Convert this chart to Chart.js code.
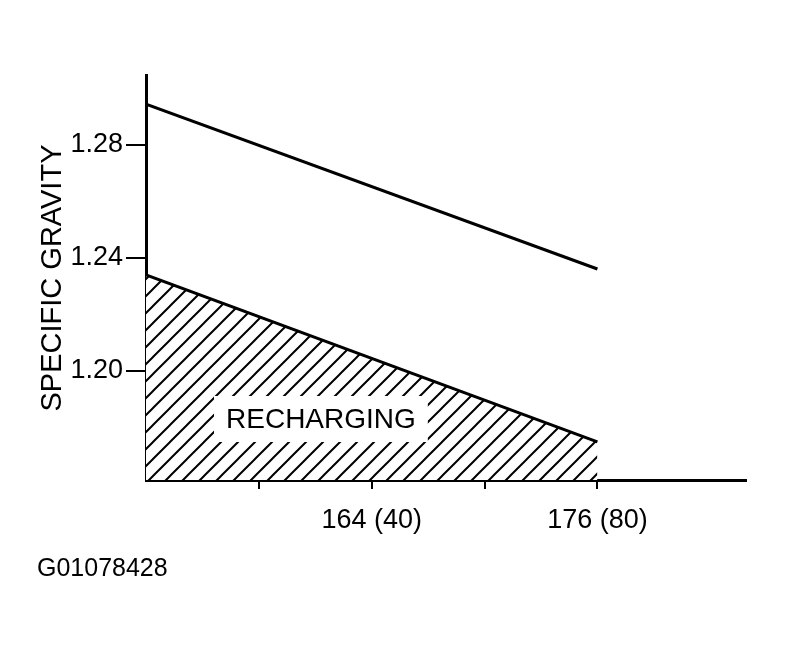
<!DOCTYPE html>
<html>
<head>
<meta charset="utf-8">
<script src="https://cdn.jsdelivr.net/npm/chart.js@4"></script>
<style>
  html, body { margin: 0; padding: 0; background: #fff; }
  #wrap { width: 786px; height: 650px; }
</style>
</head>
<body>
<div id="wrap"><canvas id="chart" width="786" height="650"></canvas></div>
<script>
// temperature in °F (°C in brackets on the tick labels)
const temps = [152, 176];
const fullCharge = [1.2945, 1.2361];
const rechargeLine = [1.234, 1.1749];
const yTicks = [1.20, 1.24, 1.28];
const xTicks = [158, 164, 170, 176];
const xTickLabels = { 164: '164 (40)', 176: '176 (80)' };
const yTitle = 'SPECIFIC GRAVITY';
const areaLabel = 'RECHARGING';
const figureId = 'G01078428';

const FONT = '"Liberation Sans", Arial, Helvetica, sans-serif';

function hatchPattern() {
  const c = document.createElement('canvas');
  const s = 17;
  c.width = s; c.height = s;
  const g = c.getContext('2d');
  g.fillStyle = '#fff';
  g.fillRect(0, 0, s, s);
  g.strokeStyle = '#000';
  g.lineWidth = 2;
  g.beginPath();
  g.moveTo(-2, s + 2); g.lineTo(s + 2, -2);
  g.moveTo(-2, 2); g.lineTo(2, -2);
  g.moveTo(s - 2, s + 2); g.lineTo(s + 2, s - 2);
  g.stroke();
  return g.createPattern(c, 'repeat');
}

// extra texts: rotated axis title, label in the hatched area, figure id
const textPlugin = {
  id: 'texts',
  afterDatasetsDraw(chart) {
    const ctx = chart.ctx;
    const x = chart.scales.x, y = chart.scales.y;
    ctx.save();
    // label box inside the hatching
    const lx = x.getPixelForValue(161.3), ly = y.getPixelForValue(1.183);
    ctx.font = '28px ' + FONT;
    const w = ctx.measureText(areaLabel).width;
    ctx.fillStyle = '#fff';
    ctx.fillRect(lx - w / 2 - 12, ly - 23, w + 24, 46);
    ctx.fillStyle = '#000';
    ctx.textAlign = 'center';
    ctx.textBaseline = 'middle';
    ctx.fillText(areaLabel, lx, ly + 1);
    ctx.restore();
  },
  afterDraw(chart) {
    const ctx = chart.ctx;
    ctx.save();
    ctx.fillStyle = '#000';
    ctx.textBaseline = 'middle';
    ctx.font = '29px ' + FONT;
    ctx.translate(53, 278);
    ctx.rotate(-Math.PI / 2);
    ctx.textAlign = 'center';
    ctx.fillText(yTitle, 0, 0);
    ctx.restore();
    ctx.save();
    ctx.fillStyle = '#000';
    ctx.font = '25px ' + FONT;
    ctx.textBaseline = 'middle';
    ctx.textAlign = 'left';
    ctx.fillText(figureId, 37, 569);
    ctx.restore();
  }
};

new Chart(document.getElementById('chart'), {
  type: 'line',
  data: {
    datasets: [
      {
        data: temps.map((t, i) => ({ x: t, y: fullCharge[i] })),
        borderColor: '#000',
        borderWidth: 3,
        pointRadius: 0,
        fill: false
      },
      {
        data: temps.map((t, i) => ({ x: t, y: rechargeLine[i] })),
        borderColor: '#000',
        borderWidth: 3,
        pointRadius: 0,
        fill: 'start',
        backgroundColor: hatchPattern()
      }
    ]
  },
  options: {
    responsive: false,
    animation: false,
    events: [],
    layout: { padding: { top: 75, right: 40, left: 0, bottom: 0 } },
    plugins: { legend: { display: false }, tooltip: { enabled: false } },
    scales: {
      x: {
        type: 'linear',
        min: 152,
        max: 183.9,
        afterBuildTicks: s => { s.ticks = xTicks.map(v => ({ value: v })); },
        afterFit: s => { s.height = 170; },
        grid: { drawOnChartArea: false, drawTicks: true, tickLength: 9, color: '#000', lineWidth: 2 },
        border: { color: '#000', width: 3 },
        ticks: {
          color: '#000',
          font: { family: FONT, size: 27 },
          padding: 15,
          maxRotation: 0,
          autoSkip: false,
          callback: v => xTickLabels[v] || ''
        }
      },
      y: {
        type: 'linear',
        min: 1.1614,
        max: 1.3048,
        afterBuildTicks: s => { s.ticks = yTicks.map(v => ({ value: v })); },
        afterFit: s => { s.width = 146; },
        grid: { drawOnChartArea: false, drawTicks: true, tickLength: 20, color: '#000', lineWidth: 2 },
        border: { color: '#000', width: 3 },
        ticks: {
          color: '#000',
          font: { family: FONT, size: 27 },
          padding: 3,
          callback: v => v.toFixed(2)
        }
      }
    }
  },
  plugins: [textPlugin]
});
</script>
</body>
</html>
